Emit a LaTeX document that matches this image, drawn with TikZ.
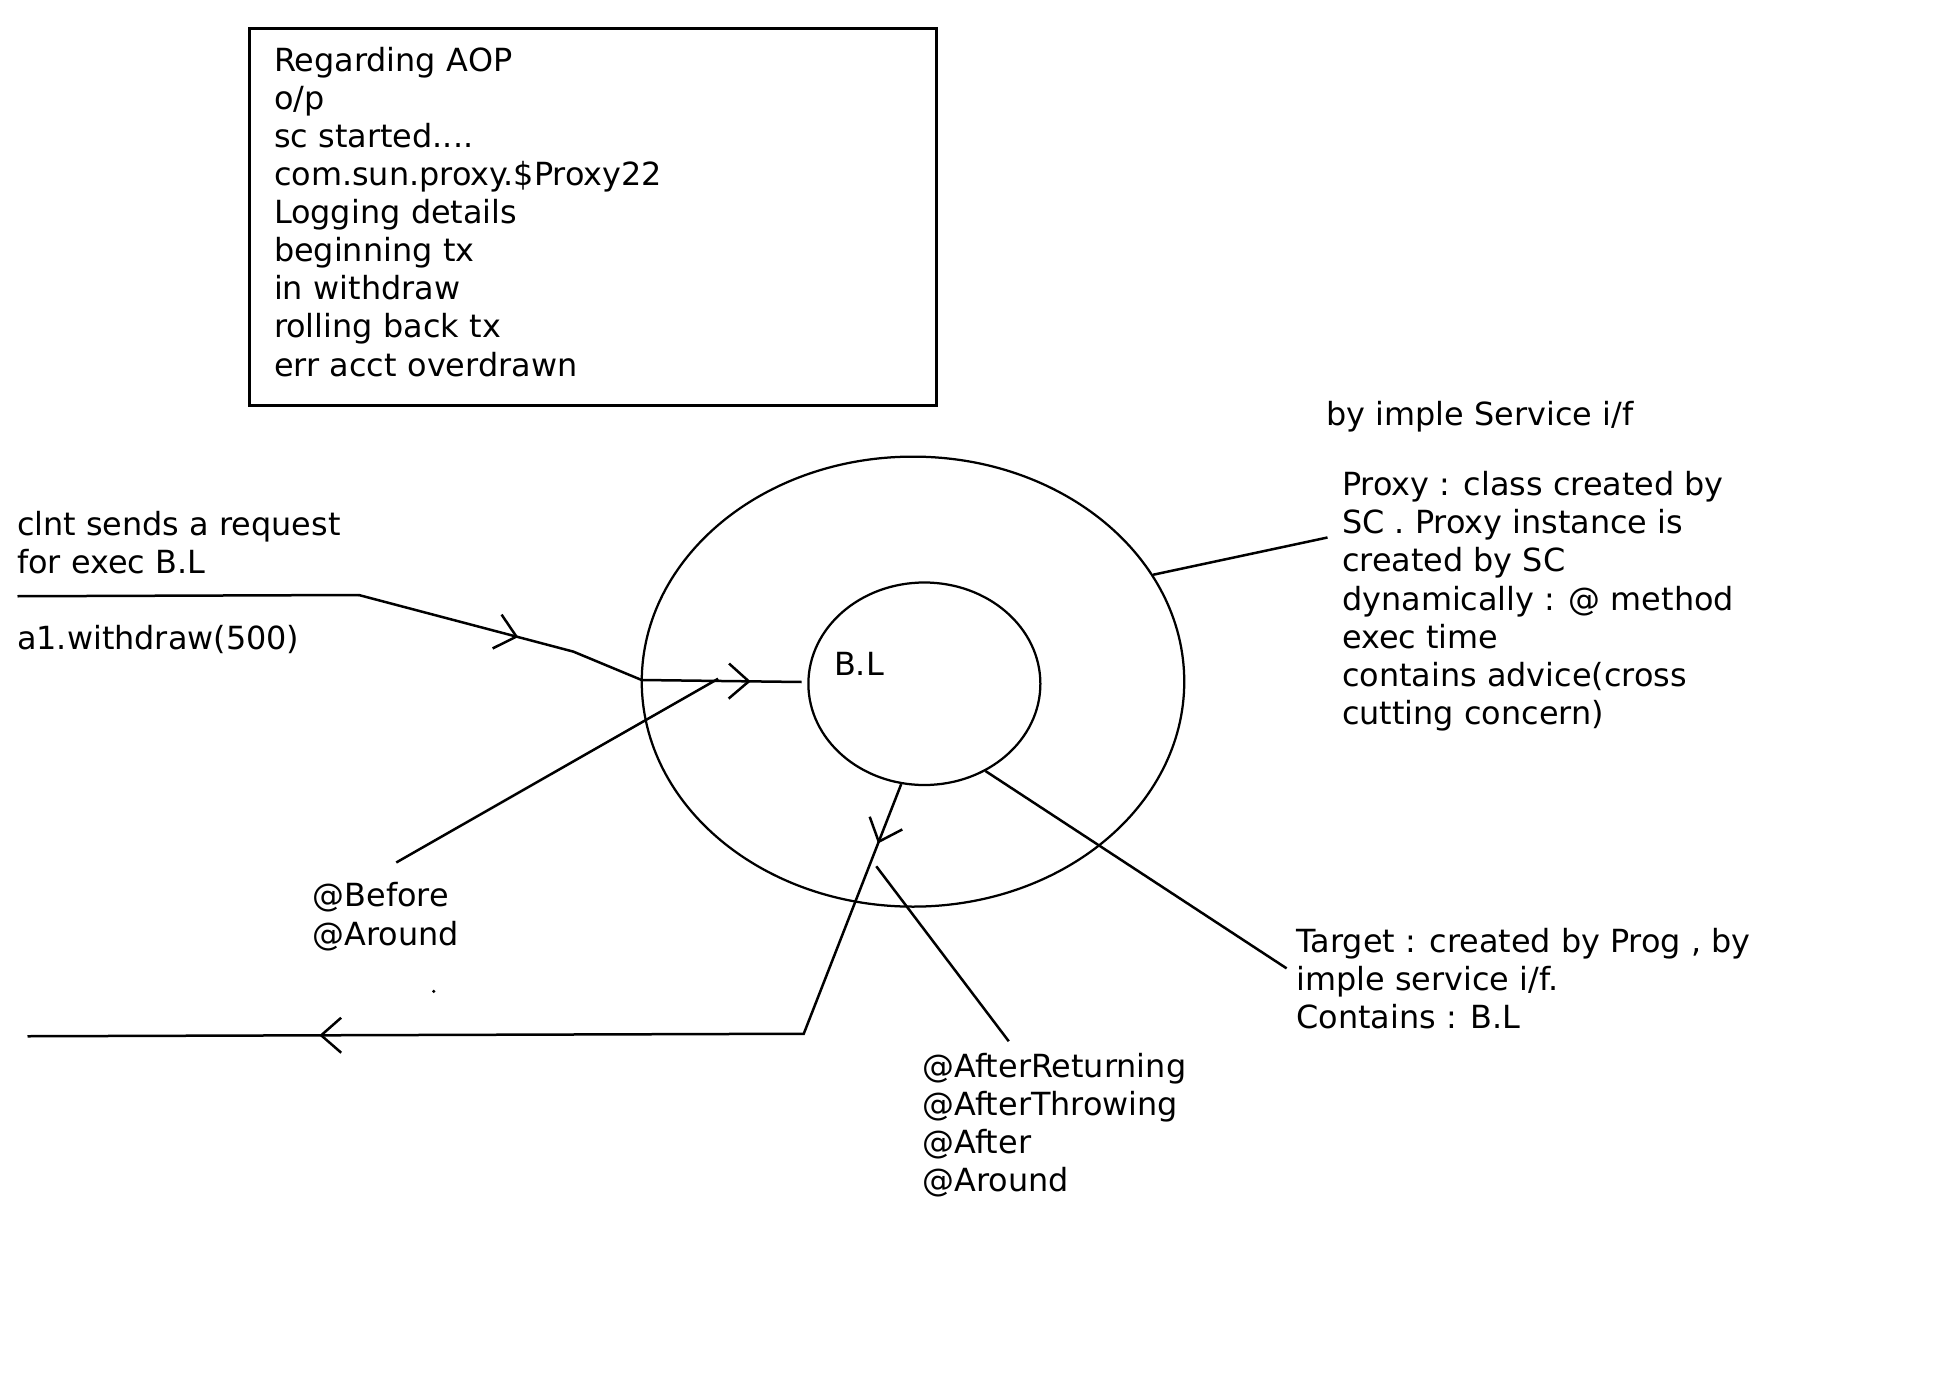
\documentclass[tikz,border=0pt]{standalone}
\usepackage{fontspec}
\setmainfont{DejaVu Sans}
\usetikzlibrary{shapes.geometric, arrows.meta, decorations.markings}
\tikzstyle{txt} = [anchor=base west, inner sep=0pt, align=left, font=\fontsize{25.5}{30.5}\selectfont]
\tikzstyle{outbox} = [rectangle, draw=black, line width=2.4pt, anchor=north west, minimum width=550pt, minimum height=301pt, text width=510pt, inner xsep=20pt, inner ysep=0pt, align=left, font=\fontsize{25.5}{30.5}\selectfont]
\tikzstyle{ring} = [ellipse, draw=black, line width=1.8pt]
\tikzstyle{wire} = [line width=2pt]
\tikzset{
    chev/.tip = {Straight Barb[length=16pt, width=28pt]},
    midarrow/.style={
        postaction={decorate, decoration={markings, mark=at position #1 with {\arrow{chev}}}}
    }
}

\begin{document}
\begin{tikzpicture}[x=1pt, y=1pt]
\useasboundingbox (0,0) rectangle (1564.8,-1117.6);

% console output
\node (output) [outbox] at (198,-22) {Regarding AOP\\ o/p\\ sc started....\\ com.sun.proxy.\$Proxy22\\ Logging details\\ beginning tx\\ in withdraw\\ rolling back tx\\ err acct overdrawn\strut};

% proxy around target
\node (proxy) [ring, minimum width=434pt, minimum height=360pt] at (730.4,-545.3) {};
\node (target) [ring, minimum width=185.6pt, minimum height=162pt] at (739.5,-547) {};
\node (bl) [txt] at (667,-540) {B.L};

% notes (base = last line)
\node (clnt) [txt] at (13.5,-458.7) {clnt sends a request\\for exec B.L};
\node (call) [txt] at (13.5,-519.6) {a1.withdraw(500)};
\node (before) [txt] at (250,-756) {@Before\\@Around};
\node (after) [txt] at (738,-953.5) {@AfterReturning\\@AfterThrowing\\@After\\@Around};
\node (targetnote) [txt] at (1037,-823) {Target : created by Prog , by\\imple service i/f.\\Contains : B.L};
\node (impl) [txt] at (1061,-340) {by imple Service i/f};
\node (proxynote) [txt] at (1073.5,-579.5) {Proxy : class created by\\SC . Proxy instance is\\created by SC\\dynamically : @ method\\exec time\\contains advice(cross\\cutting concern)};

% request in
\coordinate (clnt-a) at (14,-477);
\coordinate (clnt-b) at (287,-476);
\coordinate (req-bend) at (458.7,-521.3);
\coordinate (req-entry) at (513.3,-544);
\coordinate (req-end) at (641.3,-545.6);
\draw [wire] (clnt-a) -- (clnt-b);
\draw [wire, midarrow=132pt, midarrow=324pt] (clnt-b) -- (req-bend) -- (req-entry) -- (req-end);

\coordinate (before-top) at (317,-690);
\coordinate (before-join) at (574.5,-543);
\draw [wire] (before-top) -- (before-join);

% response out
\coordinate (ret-corner) at (643,-827);
\coordinate (ret-end) at (22,-829);
\draw [wire, midarrow=51pt, midarrow=602pt] (target.-103) -- (ret-corner) -- (ret-end);

\coordinate (after-top) at (701,-693);
\coordinate (after-bot) at (807,-833);
\draw [wire] (after-top) -- (after-bot);

% pointers to the notes
\coordinate (target-tip) at (1029.3,-774.7);
\coordinate (proxy-tip) at (1062,-430);
\draw [wire] (target.-55) -- (target-tip);
\draw [wire] (proxy.24) -- (proxy-tip);

\fill (347,-793) circle (1.4pt);

\end{tikzpicture}
\end{document}
